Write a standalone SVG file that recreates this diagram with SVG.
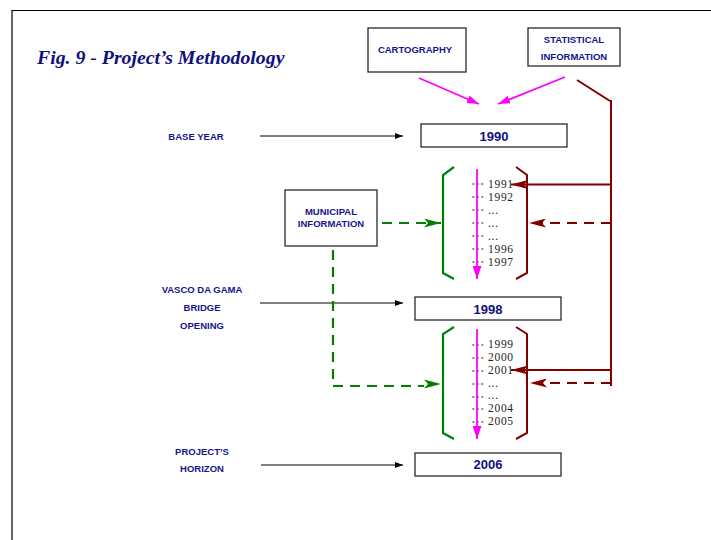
<svg xmlns="http://www.w3.org/2000/svg" width="711" height="540" viewBox="0 0 711 540">
<style>
.lbl{font-family:"Liberation Sans",Arial,sans-serif;font-weight:bold;font-size:9.5px;fill:#15158a;text-anchor:middle}
.yr{font-family:"Liberation Sans",Arial,sans-serif;font-weight:bold;font-size:13px;fill:#10107f;text-anchor:middle}
.ys{font-family:"Liberation Serif","Times New Roman",serif;font-size:11.5px;fill:#222;letter-spacing:0.7px}
.box{fill:#fff;stroke:#2a2a2a;stroke-width:1.3}
.blk{stroke:#000;stroke-width:1;fill:none}
.mag{stroke:#ff00ff;stroke-width:1.8;fill:none}
.red{stroke:#800000;stroke-width:2;fill:none}
.grn{stroke:#008000;stroke-width:2.2;fill:none}
.dash{stroke-dasharray:10,7}
.tick{stroke:#444;stroke-width:1;stroke-dasharray:2.5,2}
</style>
<defs>
<marker id="aBlk" markerUnits="userSpaceOnUse" markerWidth="8" markerHeight="6" refX="8" refY="3" orient="auto"><path d="M0,0 L8,3 L0,6 z" fill="#000"/></marker>
<marker id="aMag" markerUnits="userSpaceOnUse" markerWidth="12" markerHeight="8" refX="12" refY="4" orient="auto"><path d="M0,0 L12,4 L0,8 z" fill="#ff00ff"/></marker>
<marker id="aMagV" markerUnits="userSpaceOnUse" markerWidth="13" markerHeight="9" refX="13" refY="4.5" orient="auto"><path d="M0,0 L13,4.5 L0,9 z" fill="#ff00ff"/></marker>
<marker id="aRed" markerUnits="userSpaceOnUse" markerWidth="17" markerHeight="9" refX="17" refY="4.5" orient="auto"><path d="M0,0 L17,4.5 L0,9 L4,4.5 z" fill="#800000"/></marker>
<marker id="aGrn" markerUnits="userSpaceOnUse" markerWidth="17" markerHeight="9" refX="17" refY="4.5" orient="auto"><path d="M0,0 L17,4.5 L0,9 L4,4.5 z" fill="#008000"/></marker>
</defs>
<rect width="711" height="540" fill="#fff"/>
<path d="M12,540 V10.5 H711" stroke="#000" stroke-width="1.2" fill="none"/>
<text x="37" y="64" font-family="Liberation Serif,'Times New Roman',serif" font-style="italic" font-weight="bold" font-size="19.8" fill="#10107f">Fig. 9 - Project’s Methodology</text>

<g id="connectors">
<path class="mag" d="M419,78 L479,104" marker-end="url(#aMag)"/>
<path class="mag" d="M565,77 L498,104" marker-end="url(#aMag)"/>
<path class="red" d="M577,80 L610,101 M611,100 V386"/>
<path class="blk" d="M260,136 H403" marker-end="url(#aBlk)"/>
<path class="blk" d="M260,303 H403" marker-end="url(#aBlk)"/>
<path class="blk" d="M261,465 H403" marker-end="url(#aBlk)"/>
<path class="red" d="M611,184.5 H511" marker-end="url(#aRed)"/>
<path class="red dash" d="M611,223 H529" marker-end="url(#aRed)"/>
<path class="red" d="M611,370 H511" marker-end="url(#aRed)"/>
<path class="red dash" d="M611,383 H530" marker-end="url(#aRed)"/>
<path class="grn dash" d="M382,223 H441" marker-end="url(#aGrn)"/>
<path class="grn dash" d="M333,250 V386 H424"/>
<path d="M424,379.5 L441,384 L424,388.5 L428,384 z" fill="#008000"/>
</g>

<g id="cartography"><rect class="box" x="368" y="28" width="98" height="44"/><text class="lbl" x="415" y="53">CARTOGRAPHY</text></g>
<g id="statistical"><rect class="box" x="528" y="28" width="92" height="38"/><text class="lbl" x="574" y="43">STATISTICAL</text><text class="lbl" x="574" y="60">INFORMATION</text></g>
<g id="municipal"><rect class="box" x="285" y="190" width="92" height="56"/><text class="lbl" x="331" y="215">MUNICIPAL</text><text class="lbl" x="331" y="227">INFORMATION</text></g>

<g id="base-year"><text class="lbl" x="196" y="140">BASE YEAR</text></g>
<g id="vasco"><text class="lbl" x="202" y="293">VASCO DA GAMA</text><text class="lbl" x="202" y="311">BRIDGE</text><text class="lbl" x="202" y="329">OPENING</text></g>
<g id="horizon"><text class="lbl" x="202" y="455">PROJECT’S</text><text class="lbl" x="202" y="472">HORIZON</text></g>

<g id="y1990"><rect class="box" x="421" y="124" width="146" height="23"/><text class="yr" x="494" y="140.5">1990</text></g>
<g id="y1998"><rect class="box" x="415" y="297" width="146" height="23"/><text class="yr" x="488" y="313.5">1998</text></g>
<g id="y2006"><rect class="box" x="415" y="453" width="146" height="23"/><text class="yr" x="488" y="469">2006</text></g>

<g id="period1">
<path class="grn" d="M454,167 L443,175 V273 L454,279"/>
<path class="red" d="M516,167 L527,175 V273 L516,279"/>
<g class="tick">
<line x1="472" y1="184" x2="484" y2="184"/><line x1="472" y1="197" x2="484" y2="197"/><line x1="472" y1="210" x2="484" y2="210"/><line x1="472" y1="223" x2="484" y2="223"/><line x1="472" y1="236" x2="484" y2="236"/><line x1="472" y1="249" x2="484" y2="249"/><line x1="472" y1="262" x2="484" y2="262"/>
</g>
<path class="mag" d="M477,169 V279" marker-end="url(#aMagV)"/>
<text class="ys" x="488" y="188">1991</text><text class="ys" x="488" y="201">1992</text><text class="ys" x="488" y="214">...</text><text class="ys" x="488" y="227">...</text><text class="ys" x="488" y="240">...</text><text class="ys" x="488" y="253">1996</text><text class="ys" x="488" y="266">1997</text>
</g>

<g id="period2">
<path class="grn" d="M454,327 L443,334 V433 L454,439"/>
<path class="red" d="M516,327 L527,334 V433 L516,439"/>
<g class="tick">
<line x1="472" y1="345" x2="484" y2="345"/><line x1="472" y1="358" x2="484" y2="358"/><line x1="472" y1="371" x2="484" y2="371"/><line x1="472" y1="384" x2="484" y2="384"/><line x1="472" y1="397" x2="484" y2="397"/><line x1="472" y1="409" x2="484" y2="409"/><line x1="472" y1="422" x2="484" y2="422"/>
</g>
<path class="mag" d="M477,329 V439" marker-end="url(#aMagV)"/>
<text class="ys" x="488" y="348">1999</text><text class="ys" x="488" y="361">2000</text><text class="ys" x="488" y="374">2001</text><text class="ys" x="488" y="387">...</text><text class="ys" x="488" y="399">...</text><text class="ys" x="488" y="412">2004</text><text class="ys" x="488" y="425">2005</text>
</g>
</svg>
